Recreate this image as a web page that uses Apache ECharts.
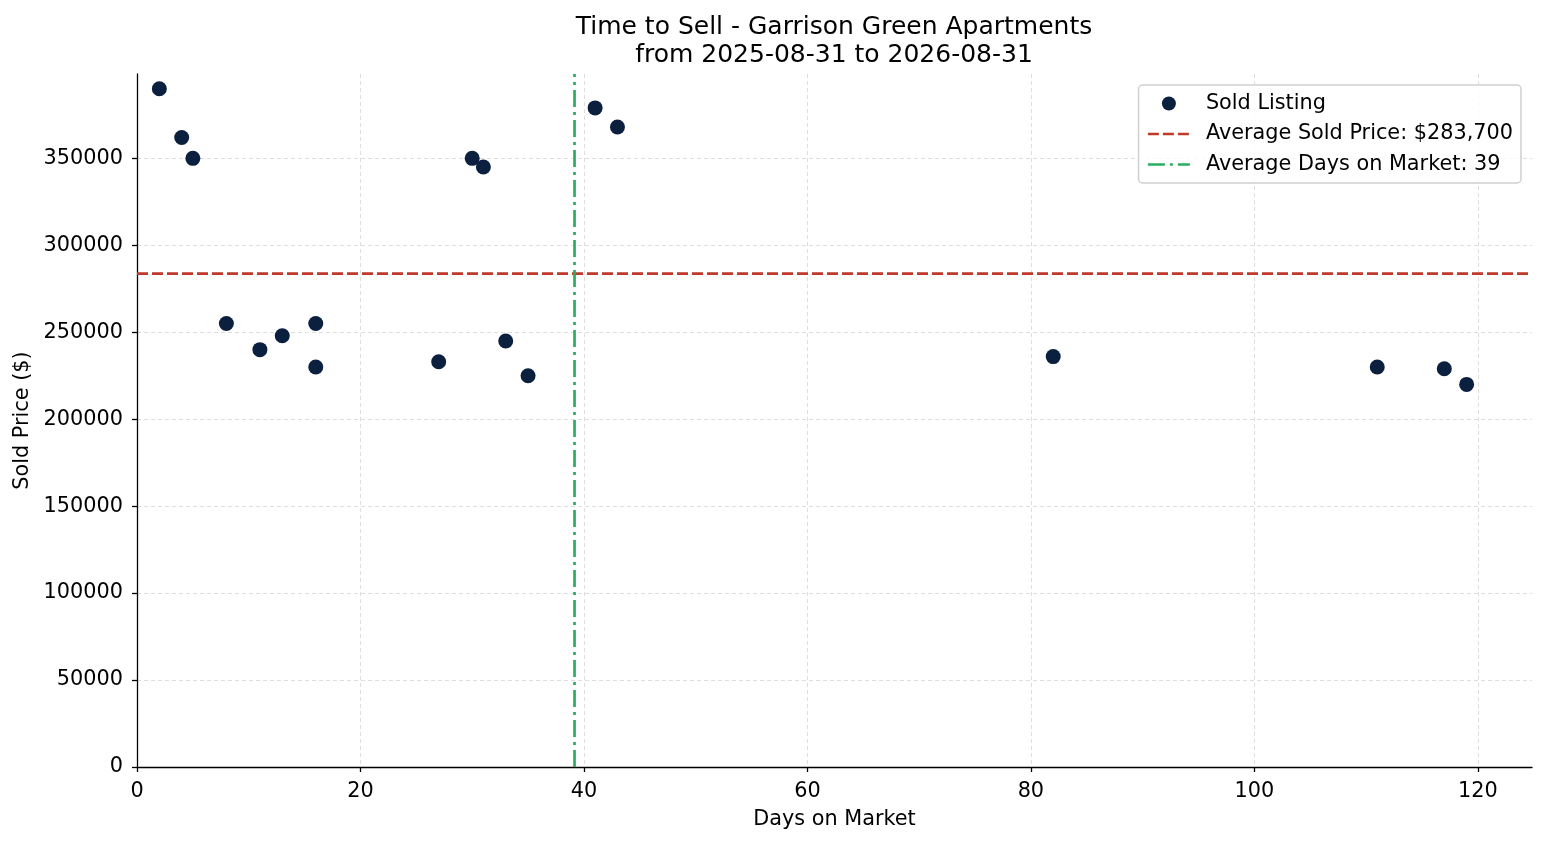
<!DOCTYPE html>
<html>
<head>
<meta charset="utf-8">
<title>Time to Sell - Garrison Green Apartments</title>
<script src="https://cdn.jsdelivr.net/npm/echarts@6/dist/echarts.min.js"></script>
<style>
  html, body { margin: 0; padding: 0; background: #fff; }
  #chart { width: 1547px; height: 845px; }
</style>
</head>
<body>
<div id="chart"></div>
<script>
// listings
var daysOnMarket = [2, 4, 5, 8, 11, 13, 16, 16, 27, 30, 31, 33, 35, 41, 43, 82, 111, 117, 119];
var soldPrices = [390000, 362000, 350000, 255000, 240000, 248000, 255000, 230000, 233000, 350000,
  345000, 245000, 225000, 379000, 368000, 236000, 230000, 229000, 220000];
var xTicks = [0, 20, 40, 60, 80, 100, 120];
var yTicks = [0, 50000, 100000, 150000, 200000, 250000, 300000, 350000];
var xMax = 124.85;
var yMax = 398500;

var font = 'DejaVu Sans';
var fs = 20.8;

function mean(arr) {
  var s = 0;
  arr.forEach(function (v) { s += v; });
  return s / arr.length;
}

var avgPrice = mean(soldPrices);
var avgDays = mean(daysOnMarket);
var avgPriceLabel = '$' + (Math.round(avgPrice / 100) * 100).toLocaleString('en-US');
var avgDaysLabel = String(Math.round(avgDays));
var priceName = 'Average Sold Price: ' + avgPriceLabel;
var daysName = 'Average Days on Market: ' + avgDaysLabel;

var points = daysOnMarket.map(function (d, i) { return [d, soldPrices[i]]; });

var myChart = echarts.init(document.getElementById('chart'));

var option = {
  animation: false,
  textStyle: { fontFamily: font },
  title: {
    text: 'Time to Sell - Garrison Green Apartments\nfrom 2025-08-31 to 2026-08-31',
    left: 829,
    top: 8,
    textAlign: 'center',
    textStyle: { fontFamily: font, fontSize: 25, fontWeight: 'normal', lineHeight: 28, color: '#000' }
  },
  legend: {
    orient: 'vertical',
    right: 26,
    top: 85,
    padding: [8, 8, 8, 8],
    itemWidth: 42,
    itemHeight: 14,
    itemGap: 9.5,
    backgroundColor: 'rgba(255,255,255,0.8)',
    borderColor: '#d0d0d0',
    borderWidth: 1.5,
    borderRadius: 4,
    lineStyle: { width: 2.7 },
    textStyle: { fontFamily: font, fontSize: fs, color: '#000', lineHeight: 20, padding: [0, 0, 0, 11] },
    data: [
      'Sold Listing',
      { name: priceName, itemStyle: { opacity: 0 } },
      { name: daysName, itemStyle: { opacity: 0 } }
    ]
  },
  grid: { left: 137, right: 15, top: 74, bottom: 78 },
  xAxis: {
    type: 'value',
    min: 0,
    max: xMax,
    interval: 20,
    name: 'Days on Market',
    nameLocation: 'middle',
    nameGap: 42,
    nameTextStyle: { fontFamily: font, fontSize: fs, color: '#000' },
    axisLine: { show: true, onZero: false, lineStyle: { color: '#000', width: 1.3 } },
    axisTick: { show: true, length: 5, customValues: xTicks, lineStyle: { color: '#000', width: 1.3 } },
    axisLabel: { customValues: xTicks, margin: 14, fontFamily: font, fontSize: fs, color: '#000' },
    splitLine: { show: true, lineStyle: { color: '#d6d6d6', type: [4, 3], width: 0.8 } }
  },
  yAxis: {
    type: 'value',
    min: 0,
    max: yMax,
    interval: 50000,
    name: 'Sold Price ($)',
    nameLocation: 'middle',
    nameGap: 101,
    nameTextStyle: { fontFamily: font, fontSize: fs, color: '#000' },
    axisLine: { show: true, onZero: false, lineStyle: { color: '#000', width: 1.3 } },
    axisTick: { show: true, length: 5, customValues: yTicks, lineStyle: { color: '#000', width: 1.3 } },
    axisLabel: {
      customValues: yTicks, margin: 14, fontFamily: font, fontSize: fs, color: '#000',
      formatter: function (v) { return String(v); }
    },
    splitLine: { show: true, lineStyle: { color: '#d6d6d6', type: [4, 3], width: 0.8 } }
  },
  series: [
    {
      name: priceName,
      type: 'line',
      symbol: 'none',
      data: [[0, avgPrice], [xMax, avgPrice]],
      itemStyle: { color: '#c0392b' },
      lineStyle: { color: '#c0392b', width: 2.7, type: [11, 4] },
      z: 2
    },
    {
      name: daysName,
      type: 'line',
      symbol: 'none',
      data: [[avgDays, 0], [avgDays, yMax]],
      itemStyle: { color: '#27ae60' },
      lineStyle: { color: '#27ae60', width: 2.7, type: [17, 5, 3, 5] },
      z: 2
    },
    {
      name: 'Sold Listing',
      type: 'scatter',
      symbol: 'circle',
      symbolSize: 15,
      data: points,
      itemStyle: { color: '#0b1f3f', opacity: 1 },
      z: 3
    }
  ]
};

myChart.setOption(option);
</script>
</body>
</html>
